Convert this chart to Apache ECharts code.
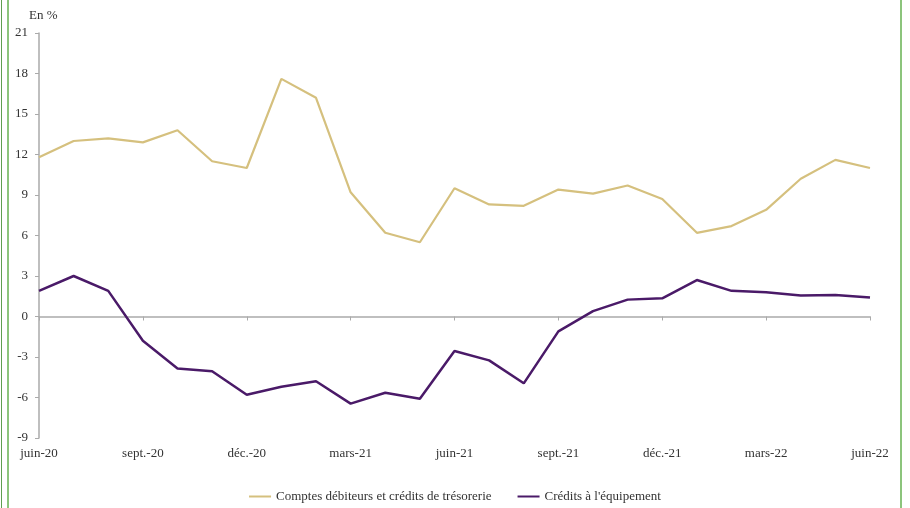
<!DOCTYPE html>
<html>
<head>
<meta charset="utf-8">
<script src="https://cdn.jsdelivr.net/npm/echarts@6/dist/echarts.min.js"></script>
<style>
body { margin: 0; background: #fff; }
#wrap { position: relative; width: 910px; height: 508px; }
#chart { width: 910px; height: 508px; }
.edge { position: absolute; top: 0; height: 508px; }
</style>
</head>
<body>
<div id="wrap">
    <div id="chart"></div>
    <div class="edge" style="left:1px;width:1px;background:#5f9e4f"></div>
    <div class="edge" style="left:7px;width:2px;background:#8cc47c"></div>
    <div class="edge" style="left:900px;width:2px;background:#8cc47c"></div>
</div>
<script>
var months = ["juin-20", "juil.-20", "août-20", "sept.-20", "oct.-20", "nov.-20", "déc.-20",
    "janv.-21", "févr.-21", "mars-21", "avr.-21", "mai-21", "juin-21", "juil.-21", "août-21",
    "sept.-21", "oct.-21", "nov.-21", "déc.-21", "janv.-22", "févr.-22", "mars-22", "avr.-22",
    "mai-22", "juin-22"];

var tresorerie = [11.8, 13.0, 13.2, 12.9, 13.8, 11.5, 11.0, 17.6, 16.2, 9.2, 6.2, 5.5, 9.5,
    8.3, 8.2, 9.4, 9.1, 9.7, 8.7, 6.2, 6.7, 7.9, 10.2, 11.6, 11.0];

var equipement = [1.9, 3.0, 1.9, -1.8, -3.85, -4.05, -5.8, -5.2, -4.8, -6.45, -5.65, -6.1, -2.55,
    -3.25, -4.95, -1.1, 0.4, 1.25, 1.35, 2.7, 1.9, 1.8, 1.55, 1.6, 1.4];

var yTicks = { min: -9, max: 21, step: 3 };

var font = "Liberation Serif";
var chart = echarts.init(document.getElementById("chart"));
chart.setOption({
    animation: false,
    title: {
        text: "En %",
        left: 24,
        top: 4,
        textStyle: { fontFamily: font, fontSize: 13, fontWeight: "normal", color: "#333" }
    },
    grid: { left: 39, right: 40, top: 33, bottom: 70 },
    legend: {
        bottom: 0,
        left: "center",
        icon: "rect",
        itemWidth: 22,
        itemHeight: 2,
        itemGap: 26,
        textStyle: { fontFamily: font, fontSize: 13, color: "#333" },
        data: ["Comptes débiteurs et crédits de trésorerie", "Crédits à l'équipement"]
    },
    xAxis: [
        {
            type: "category",
            data: months,
            boundaryGap: false,
            axisLine: { onZero: true, lineStyle: { color: "#aaa", width: 1.5 } },
            axisTick: { show: true, interval: 2, length: 4, lineStyle: { color: "#aaa" } },
            axisLabel: { show: false }
        },
        {
            type: "category",
            data: months,
            boundaryGap: false,
            position: "bottom",
            axisLine: { show: false, onZero: false },
            axisTick: { show: false },
            axisLabel: { interval: 2, margin: 9, fontFamily: font, fontSize: 13, color: "#333" }
        }
    ],
    yAxis: {
        type: "value",
        min: yTicks.min,
        max: yTicks.max,
        interval: yTicks.step,
        splitLine: { show: false },
        axisLine: { show: true, lineStyle: { color: "#aaa", width: 1.5 } },
        axisTick: { show: true, length: 4, lineStyle: { color: "#aaa" } },
        axisLabel: { margin: 11, fontFamily: font, fontSize: 13, color: "#333" }
    },
    series: [
        {
            name: "Comptes débiteurs et crédits de trésorerie",
            type: "line",
            data: tresorerie,
            symbol: "none",
            color: "#d5c07e",
            lineStyle: { width: 2.2, color: "#d5c07e" }
        },
        {
            name: "Crédits à l'équipement",
            type: "line",
            data: equipement,
            symbol: "none",
            color: "#4a1a68",
            lineStyle: { width: 2.5, color: "#4a1a68" }
        }
    ]
});
</script>
</body>
</html>
